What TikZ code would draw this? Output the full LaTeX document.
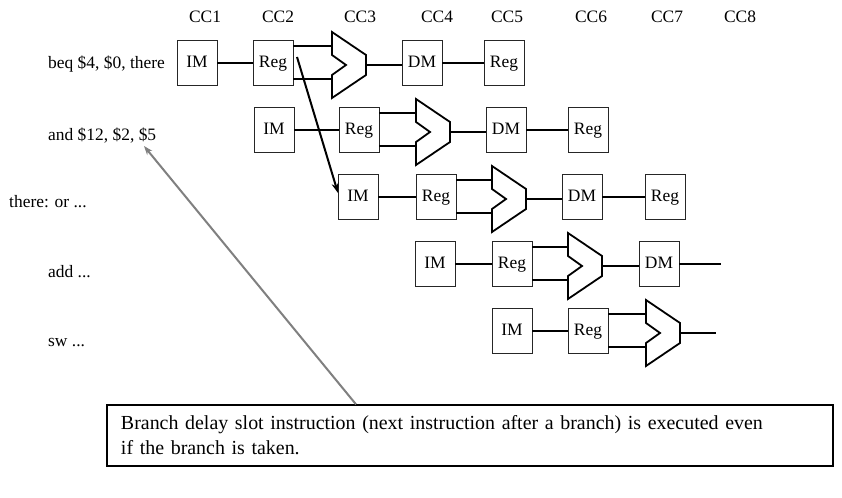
\documentclass[tikz,border=0pt]{standalone}
\usepackage{fontspec}
\setmainfont{Liberation Serif}
\usetikzlibrary{arrows.meta,calc}

\tikzset{
  stage/.style={draw=black!85, line width=1bp, fill=white, minimum width=40bp,
    minimum height=45bp, inner sep=0pt, outer sep=0pt, text height=12bp, text depth=2bp,
    font=\fontsize{17.5}{20}\selectfont},
  alubody/.style={minimum width=34bp, minimum height=66bp, inner sep=0pt, outer sep=0pt},
  wire/.style={line width=2bp, black},
  aluline/.style={line width=1.8bp, black, line join=miter},
  instr/.style={anchor=base west, inner sep=0pt, font=\fontsize{17.5}{20}\selectfont},
  cclabel/.style={inner sep=0pt, anchor=base, font=\fontsize{17.5}{20}\selectfont},
  branchjump/.style={line width=2bp, black, -{Stealth[length=10bp,width=7bp]}},
  pointer/.style={line width=2bp, black!50, -{Stealth[length=9bp,width=6.5bp]}},
  notebox/.style={draw=black, line width=1.3bp, minimum width=726bp, minimum height=61bp,
    text width=698bp, inner xsep=14bp, inner ysep=0pt, align=left,
    font=\fontsize{20}{25}\selectfont}
}

% ALU outline drawn around an (invisible) alubody node
\newcommand\aluoutline[1]{%
  \draw[aluline] (#1.north west) -- ([yshift=-23bp]#1.north east)
    -- ([yshift=23bp]#1.south east) -- (#1.south west)
    -- ([yshift=23bp]#1.south west) -- ([xshift=14bp]#1.west)
    -- ([yshift=-23bp]#1.north west) -- cycle;}

% one pipeline row: name prefix, centre y, x of IM, Reg, ALU
\newcommand\pipefront[5]{%
  \node[stage] (im#1)  at (#3+20,#2) {IM};
  \node[stage] (reg#1) at (#4+20,#2) {Reg};
  \node[alubody] (alu#1) at (#5+17,#2+2) {};
  \aluoutline{alu#1}
  \draw[wire] (im#1.east) -- (reg#1.west);
  \draw[wire] ([yshift=17bp]reg#1.east) -- ([yshift=17bp]reg#1.east -| alu#1.west);
  \draw[wire] ([yshift=-16bp]reg#1.east) -- ([yshift=-16bp]reg#1.east -| alu#1.west);
}

\begin{document}
\begin{tikzpicture}[x=1bp,y=-1bp]
\useasboundingbox[fill=white] (0,0) rectangle (842,498);

% clock cycle header
\node[cclabel] (cc1) at (205,23) {CC1};
\node[cclabel] (cc2) at (278,23) {CC2};
\node[cclabel] (cc3) at (360,23) {CC3};
\node[cclabel] (cc4) at (437,23) {CC4};
\node[cclabel] (cc5) at (507,23) {CC5};
\node[cclabel] (cc6) at (591,23) {CC6};
\node[cclabel] (cc7) at (667,23) {CC7};
\node[cclabel] (cc8) at (740,23) {CC8};

% instruction labels
\node[instr] (i1) at (48,69)  {beq \$4, \$0, there};
\node[instr] (i2) at (48,141) {and \$12, \$2, \$5};
\node[instr] (i3) at (9,208)  {there: or ...};
\node[instr] (i4) at (48,278) {add ...};
\node[instr] (i5) at (48,346) {sw ...};

% row 1
\pipefront{1}{63}{177}{253}{332}
\node[stage] (dm1) at (422,63) {DM};
\node[stage] (wb1) at (504,63) {Reg};
\draw[wire] (alu1.east) -- (alu1.east -| dm1.west);
\draw[wire] (dm1.east) -- (wb1.west);

% row 2
\pipefront{2}{130}{254}{339}{416}
\node[stage] (dm2) at (506,130) {DM};
\node[stage] (wb2) at (588,130) {Reg};
\draw[wire] (alu2.east) -- (alu2.east -| dm2.west);
\draw[wire] (dm2.east) -- (wb2.west);

% row 3
\pipefront{3}{197}{338}{416}{492}
\node[stage] (dm3) at (582,197) {DM};
\node[stage] (wb3) at (665,197) {Reg};
\draw[wire] (alu3.east) -- (alu3.east -| dm3.west);
\draw[wire] (dm3.east) -- (wb3.west);

% row 4
\pipefront{4}{264}{415}{492}{568}
\node[stage] (dm4) at (659,264) {DM};
\coordinate (end4) at (721,264);
\draw[wire] (alu4.east) -- (alu4.east -| dm4.west);
\draw[wire] (dm4.east) -- (end4);

% row 5
\pipefront{5}{331}{492}{568}{646}
\coordinate (end5) at (716,333);
\draw[wire] (alu5.east) -- (alu5.east -| end5);

% branch target
\draw[branchjump] ([xshift=4bp,yshift=6bp]reg1.east) -- ([yshift=4bp]im3.west);

% delay slot note
\node[notebox] (note) at (470,435.5)
  {Branch delay slot instruction (next instruction after a branch) is executed even\\
   if the branch is taken.};
\coordinate (slot) at (144,146);
\draw[pointer] ([xshift=-114bp]note.north) -- (slot);
\end{tikzpicture}
\end{document}
